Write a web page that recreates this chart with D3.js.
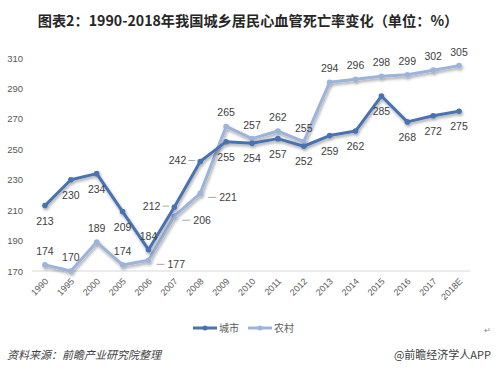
<!DOCTYPE html>
<html><head><meta charset="utf-8">
<script src="https://cdn.jsdelivr.net/npm/d3@7"></script>
<style>
body{margin:0;background:#fff;}
svg{display:block;font-family:"Noto Sans CJK SC","Liberation Sans",sans-serif;}
</style></head><body>
<svg id="c" width="500" height="377"></svg>
<script>
const categories = ["1990","1995","2000","2005","2006","2007","2008","2009","2010","2011","2012","2013","2014","2015","2016","2017","2018E"];
const urban = [213,230,234,209,184,212,242,255,254,257,252,259,262,285,268,272,275];
const rural = [174,170,189,174,177,206,221,265,257,262,255,294,296,298,299,302,305];
const yTicks = [170,190,210,230,250,270,290,310];
const seriesNames = ["城市","农村"];
// label placement (style config)
const urbanPos = ["b","b","b","b","a","L","L","b","b","b","b","b","b","b","b","b","b"];
const ruralPos = ["a","a","a","a","R","R","R","a","a","a","a","a","a","a","a","a","a"];

const svg = d3.select("#c");
const x = d3.scaleBand().domain(categories).range([32,472]);
const y = d3.scaleLinear().domain([170,310]).range([271,58]);
const cx = d => x(d)+x.bandwidth()/2;

const defs = svg.append("defs");
const f = defs.append("filter").attr("id","sh").attr("x","-10%").attr("y","-10%").attr("width","120%").attr("height","130%");
f.append("feDropShadow").attr("dx",1).attr("dy",2).attr("stdDeviation",1.6).attr("flood-color","#000").attr("flood-opacity",0.35);

// title
svg.append("text").attr("x",248).attr("y",26).attr("text-anchor","middle")
  .attr("font-size",14.2).attr("font-weight","bold").attr("fill","#262626")
  .text("图表2：1990-2018年我国城乡居民心血管死亡率变化（单位：%）");

// y axis labels
svg.append("g").selectAll("text").data(yTicks).join("text")
  .attr("x",23).attr("y",d=>y(d)+3.5).attr("text-anchor","end")
  .attr("font-size",9.5).attr("fill","#595959").attr("font-family","Liberation Sans, sans-serif").text(d=>d);

// x axis line
svg.append("line").attr("x1",32).attr("x2",470).attr("y1",271).attr("y2",271)
  .attr("stroke","#d9d9d9").attr("stroke-width",1);

// x labels
svg.append("g").selectAll("text").data(categories).join("text")
  .attr("transform",d=>`translate(${cx(d)+4},${282}) rotate(-45)`)
  .attr("text-anchor","end").attr("font-size",9).attr("fill","#595959")
  .attr("font-family","Liberation Sans, sans-serif").text(d=>d);

const colors = ["#4a72b0","#9cb3da"];
const line = d3.line().x((d,i)=>cx(categories[i])).y(d=>y(d));

[rural, urban].forEach((vals)=>{
  const col = vals===urban?colors[0]:colors[1];
  const g = svg.append("g").attr("filter","url(#sh)");
  g.append("path").datum(vals).attr("d",line).attr("fill","none").attr("stroke",col)
    .attr("stroke-width",3).attr("stroke-linejoin","round");
  g.selectAll("circle").data(vals).join("circle")
    .attr("cx",(d,i)=>cx(categories[i])).attr("cy",d=>y(d)).attr("r",2.8).attr("fill",col);
});

function labels(vals,pos){
  const g = svg.append("g").attr("font-size",10.5).attr("fill","#404040").attr("font-family","Liberation Sans, sans-serif");
  vals.forEach((v,i)=>{
    const px=cx(categories[i]), py=y(v), p=pos[i];
    if(p==="a"){
      g.append("text").attr("x",px).attr("y",py-10).attr("text-anchor","middle").text(v);
    } else if(p==="b"){
      g.append("text").attr("x",px).attr("y",py+19).attr("text-anchor","middle").text(v);
    } else if(p==="L"){
      g.append("line").attr("x1",px-12).attr("x2",px-5).attr("y1",py-1).attr("y2",py-1).attr("stroke","#a6a6a6");
      g.append("text").attr("x",px-14).attr("y",py+2.5).attr("text-anchor","end").text(v);
    } else if(p==="R"){
      g.append("line").attr("x1",px+8).attr("x2",px+16).attr("y1",py+4).attr("y2",py+4).attr("stroke","#a6a6a6");
      g.append("text").attr("x",px+19).attr("y",py+8).attr("text-anchor","start").text(v);
    }
  });
}
labels(urban,urbanPos);
labels(rural,ruralPos);

// legend
const lg = svg.append("g").attr("font-size",10).attr("fill","#595959");
[[193,218,colors[0],seriesNames[0]],[248,273,colors[1],seriesNames[1]]].forEach(([x1,tx,col,name])=>{
  lg.append("line").attr("x1",x1).attr("x2",x1+24).attr("y1",328).attr("y2",328).attr("stroke",col).attr("stroke-width",3);
  lg.append("circle").attr("cx",x1+12).attr("cy",328).attr("r",2.5).attr("fill",col);
  lg.append("text").attr("x",tx+1).attr("y",331.5).text(name);
});
svg.append("text").attr("x",484).attr("y",333).attr("font-size",8).attr("fill","#888").text("↵");

// footer
svg.append("text").attr("x",7).attr("y",359).attr("font-size",11).attr("font-style","italic").attr("fill","#404040")
  .text("资料来源：前瞻产业研究院整理");
svg.append("text").attr("x",491).attr("y",359).attr("text-anchor","end").attr("font-size",11).attr("fill","#404040")
  .text("@前瞻经济学人APP");
</script></body></html>
